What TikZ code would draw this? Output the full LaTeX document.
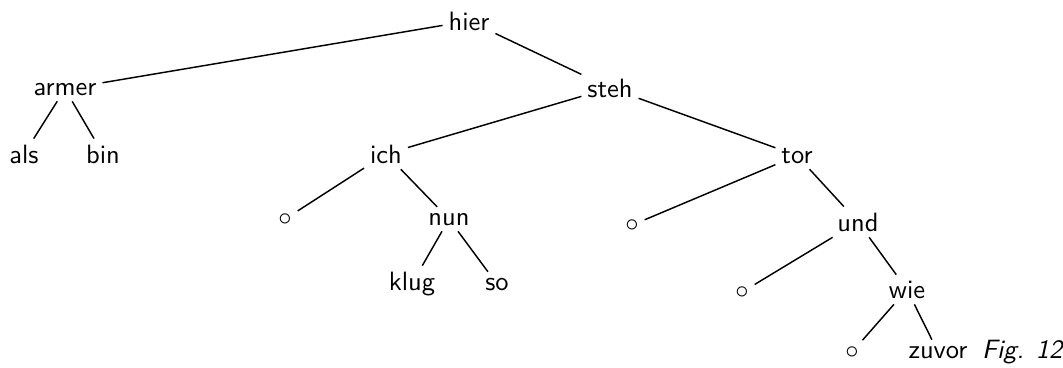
\documentclass[tikz,border=0pt]{standalone}
\begin{document}
\begin{tikzpicture}[x=0.3774pt,y=-0.3774pt,
  w/.style={anchor=base,inner sep=2pt,font=\sffamily},
  em/.style={anchor=base,inner sep=2pt},
  every path/.style={line width=0.55pt}]
\useasboundingbox (0,0) rectangle (1063,367);
\node[w] (hier) at (469,30) {hier};
\node[w] (armer) at (65,95) {armer};
\node[w] (steh) at (610,97) {steh};
\node[w] (als) at (24,163) {als};
\node[w] (bin) at (103,163) {bin};
\node[w] (ich) at (386,163) {ich};
\node[w] (tor) at (797,163) {tor};
\node[em] (o1) at (285,225) {$\circ$};
\node[w] (nun) at (449,225) {nun};
\node[em] (o2) at (632,231) {$\circ$};
\node[w] (und) at (858,231) {und};
\node[w] (klug) at (412,290) {klug};
\node[w] (so) at (497,290) {so};
\node[em] (o3) at (742,298) {$\circ$};
\node[w] (wie) at (907,298) {wie};
\node[em] (o4) at (852,358) {$\circ$};
\node[w] (zuvor) at (938,358) {zuvor};
\node[w,anchor=base west] (fig) at (976,358) {\itshape Fig. 12};
\draw (hier) -- (armer);
\draw (hier) -- (steh);
\draw (armer) -- (als);
\draw (armer) -- (bin);
\draw (steh) -- (ich);
\draw (steh) -- (tor);
\draw (ich) -- (o1);
\draw (ich) -- (nun);
\draw (nun) -- (klug);
\draw (nun) -- (so);
\draw (tor) -- (o2);
\draw (tor) -- (und);
\draw (und) -- (o3);
\draw (und) -- (wie);
\draw (wie) -- (o4);
\draw (wie) -- (zuvor);
\end{tikzpicture}
\end{document}
